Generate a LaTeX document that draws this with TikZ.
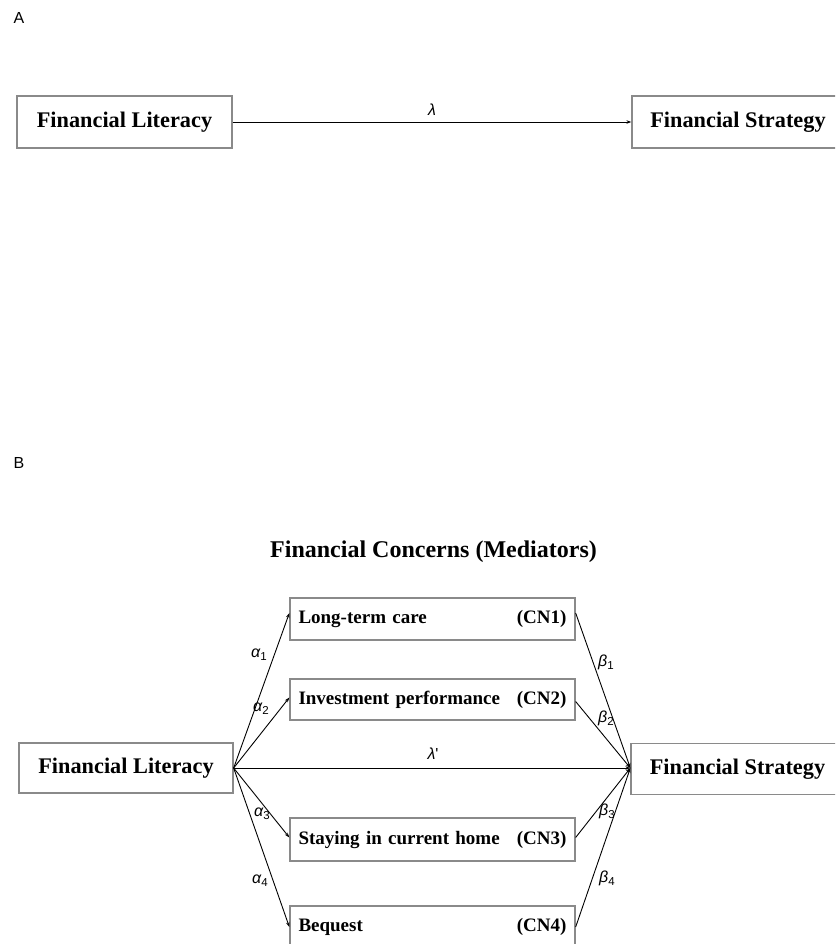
\documentclass[tikz,border=0pt]{standalone}
\usepackage{fontspec}
\setmainfont{Liberation Serif}
\newfontfamily\lblfont{Liberation Sans}
\usetikzlibrary{arrows.meta}
\definecolor{boxgray}{HTML}{8A8A8A}
\newcommand{\grk}[2]{{\lblfont\fontsize{16}{18}\selectfont\itshape #1\upshape\raisebox{-3pt}{\fontsize{11.5}{13}\selectfont #2}}}
\begin{document}
\begin{tikzpicture}[x=1pt,y=-1pt,
  bigbox/.style={draw=boxgray, line width=1.3pt, inner sep=0pt, minimum width=214pt, minimum height=51pt,
    font=\fontsize{22.3}{26}\selectfont\bfseries},
  cnbox/.style={draw=boxgray, line width=1.3pt, inner xsep=0pt, inner ysep=0pt, minimum width=285pt,
    text width=268pt, font=\fontsize{19}{22}\selectfont\bfseries},
  conn/.style={draw=black, line width=0.9pt, -{Stealth[length=5pt,width=3.5pt]}},
  lbl/.style={inner sep=0pt},
  panel/.style={inner sep=0pt, font=\lblfont\fontsize{16}{18}\selectfont}
]
\useasboundingbox (0,0) rectangle (835,944);
\clip (0,0) rectangle (835,944);

% Panel labels
\node[panel] (pA) at (19,18) {A};
\node[panel] (pB) at (19,463) {B};

% Panel A
\node[bigbox, minimum width=215pt, minimum height=52pt] (flA) at (124.5,122) {Financial Literacy};
\node[bigbox, minimum width=212pt, minimum height=52pt] (fsA) at (738,122) {Financial Strategy};
\draw[conn] (flA.east) -- (fsA.west);
\node[lbl] (lamA) at (432,111) {\grk{λ}{}};

% Panel B
\node[inner sep=0pt, font=\fontsize{24}{28}\selectfont\bfseries] (title) at (433.5,552) {Financial Concerns (Mediators)};

\node[bigbox, minimum width=214pt, minimum height=50pt] (flB) at (126,768) {Financial Literacy};
\node[bigbox, minimum width=213pt, minimum height=51pt] (fsB) at (737.5,769) {Financial Strategy};

\node[cnbox, minimum height=42pt] (cn1) at (432.5,619) {Long-term care\hfill(CN1)};
\node[cnbox, minimum height=41pt] (cn2) at (432.5,699.5) {Investment performance\hfill(CN2)};
\node[cnbox, minimum height=43pt] (cn3) at (432.5,839.5) {Staying in current home\hfill(CN3)};
\node[cnbox, minimum height=42pt] (cn4) at (432.5,927) {Bequest\hfill(CN4)};

\coordinate (jl) at (flB.east);
\coordinate (jr) at ([yshift=1pt]fsB.west);

\draw[conn] (jl) -- ([yshift=6pt]cn1.west);
\draw[conn] (jl) -- ([yshift=2pt]cn2.west);
\draw[conn] (jl) -- ([yshift=2pt]cn3.west);
\draw[conn] (jl) -- (cn4.west);
\draw[conn] (jl) -- (jr);

\draw[conn] ([yshift=6pt]cn1.east) -- (jr);
\draw[conn] ([yshift=-2pt]cn2.east) -- (jr);
\draw[conn] ([yshift=2pt]cn3.east) -- (jr);
\draw[conn] (cn4.east) -- (jr);

\node[lbl] (a1) at (259,655) {\grk{α}{1}};
\node[lbl] (a2) at (261,709) {\grk{α}{2}};
\node[lbl] (a3) at (262,814) {\grk{α}{3}};
\node[lbl] (a4) at (260,881) {\grk{α}{4}};
\node[lbl] (b1) at (606,662) {\grk{β}{1}};
\node[lbl] (b2) at (606,718) {\grk{β}{2}};
\node[lbl] (b3) at (607,811) {\grk{β}{3}};
\node[lbl] (b4) at (607,878) {\grk{β}{4}};
\node[lbl] (lamB) at (433,754) {{\lblfont\fontsize{16}{18}\selectfont\itshape λ\upshape '}};
\end{tikzpicture}
\end{document}
